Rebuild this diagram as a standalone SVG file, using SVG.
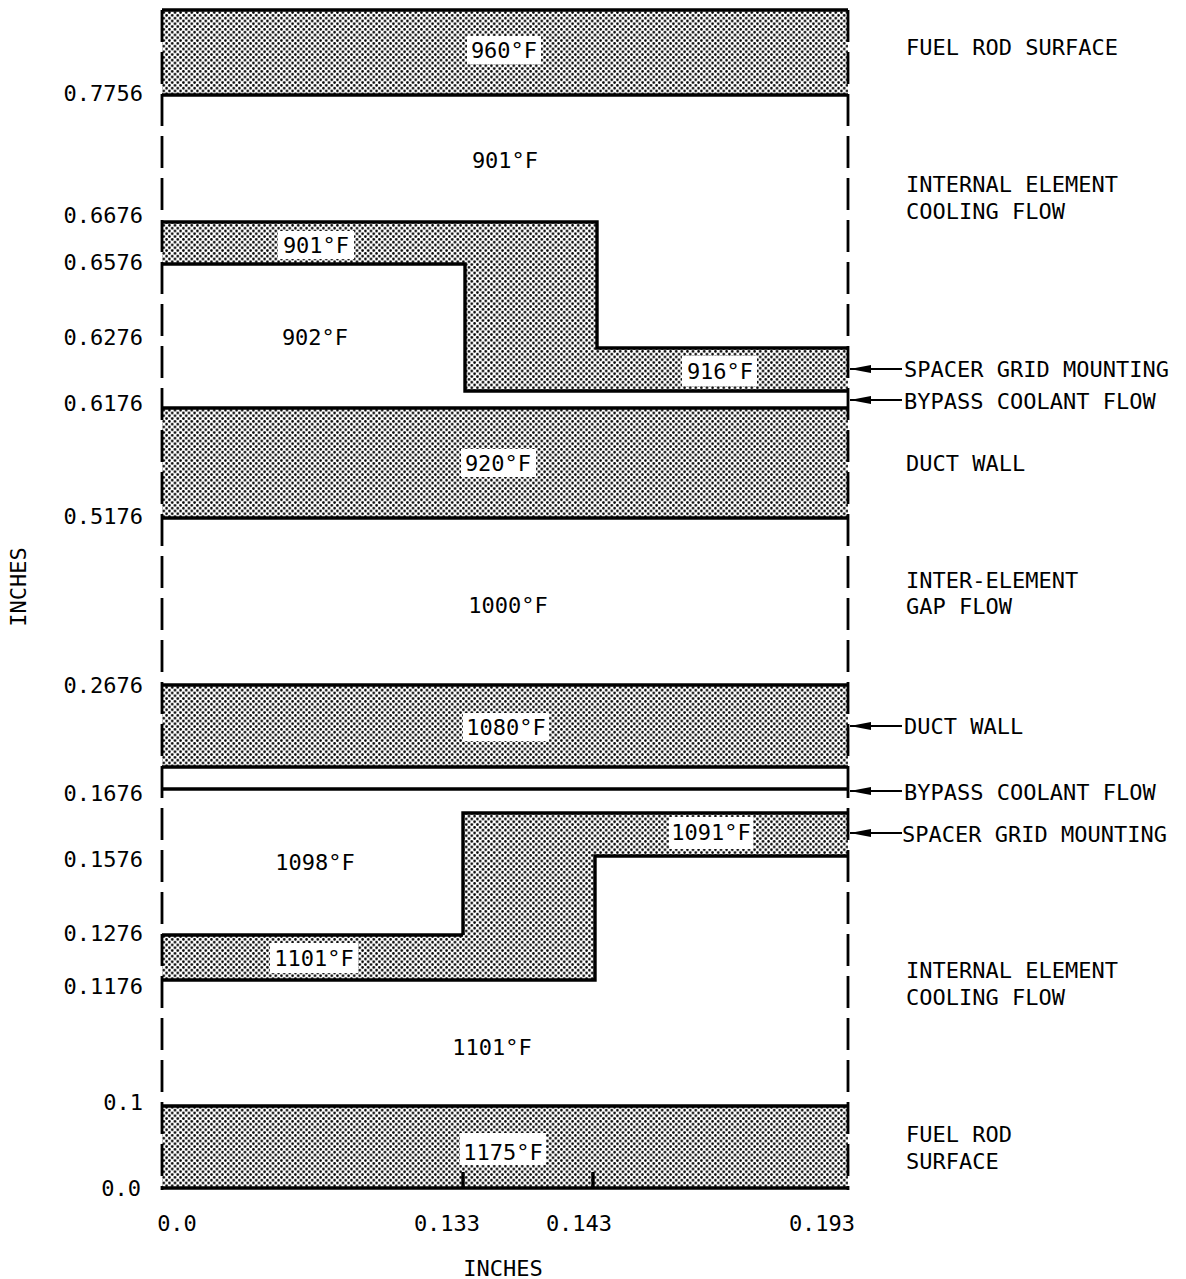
<svg xmlns="http://www.w3.org/2000/svg" width="1186" height="1279" viewBox="0 0 1186 1279">
<style>
.t{font-family:"DejaVu Sans Mono","Liberation Mono",monospace;font-size:22px;fill:#000}
.m{text-anchor:middle}
.r{text-anchor:end}
.edge{fill:none;stroke:#000;stroke-width:3.4;stroke-linejoin:miter}
.dash{fill:none;stroke:#000;stroke-width:2.8;stroke-dasharray:32 10}
.hatch{fill:url(#dots);stroke:none}
.lbl{fill:#fff}
.arr{stroke:#000;stroke-width:2;fill:none;marker-end:url(#ah)}
</style>
<defs>
<pattern id="dots" width="5.6" height="5.6" patternUnits="userSpaceOnUse">
<rect width="5.6" height="5.6" fill="#fff"/>
<circle cx="1.4" cy="1.4" r="1.3" fill="#000"/>
<circle cx="4.2" cy="4.2" r="1.3" fill="#000"/>
</pattern>
<marker id="ah" markerWidth="22" markerHeight="12" refX="21" refY="6" orient="auto" markerUnits="userSpaceOnUse">
<path d="M0,2 L21,6 L0,10 Z" fill="#000"/>
</marker>
</defs>
<rect width="1186" height="1279" fill="#fff"/>

<g id="fuel-rod-top">
<rect class="hatch" x="162" y="10" width="686" height="84"/>
<path class="edge" d="M162,10 H848 M162,95 H848"/>
<rect class="lbl" x="467" y="36" width="74" height="28"/>
<text class="t m" x="504" y="58">960°F</text>
</g>

<g id="internal-cooling-top">
<text class="t m" x="505" y="168">901°F</text>
</g>

<g id="spacer-grid-top">
<path class="hatch" d="M162,222 H597 V348 H848 V391 H465 V264 H162 Z"/>
<path class="edge" d="M162,222 H597 V348 H848 M848,391 H465 V264 H162"/>
<rect class="lbl" x="278" y="231" width="76" height="28"/>
<text class="t m" x="316" y="253">901°F</text>
<rect class="lbl" x="682" y="356" width="75" height="30"/>
<text class="t m" x="720" y="379">916°F</text>
</g>

<g id="region-902">
<text class="t m" x="315" y="345">902°F</text>
</g>

<g id="duct-wall-top">
<rect class="hatch" x="162" y="408" width="686" height="110"/>
<path class="edge" d="M162,408 H848 M162,518 H848"/>
<rect class="lbl" x="461" y="449" width="75" height="28"/>
<text class="t m" x="498" y="471">920°F</text>
</g>

<g id="inter-element-gap">
<text class="t m" x="508" y="613">1000°F</text>
</g>

<g id="duct-wall-bottom">
<rect class="hatch" x="162" y="685" width="686" height="82"/>
<path class="edge" d="M162,685 H848 M162,767 H848"/>
<rect class="lbl" x="463" y="713" width="86" height="28"/>
<text class="t m" x="506" y="735">1080°F</text>
</g>

<g id="bypass-bottom">
<path class="edge" d="M162,789 H848"/>
</g>

<g id="spacer-grid-bottom">
<path class="hatch" d="M463,813 H848 V856 H595 V980 H162 V935 H463 Z"/>
<path class="edge" d="M463,935 V813 H848 M848,856 H595 V980 H162 M162,935 H463"/>
<rect class="lbl" x="669" y="817" width="84" height="32"/>
<text class="t m" x="711" y="840">1091°F</text>
<rect class="lbl" x="270" y="943" width="88" height="30"/>
<text class="t m" x="314" y="966">1101°F</text>
</g>

<g id="region-1098">
<text class="t m" x="315" y="870">1098°F</text>
</g>

<g id="internal-cooling-bottom">
<text class="t m" x="492" y="1055">1101°F</text>
</g>

<g id="fuel-rod-bottom">
<rect class="hatch" x="162" y="1106" width="686" height="82"/>
<path class="edge" d="M162,1106 H848 M162,1188 H848 M463,1172 V1188 M593,1172 V1188"/>
<rect class="lbl" x="460" y="1133" width="86" height="32"/>
<text class="t m" x="503" y="1160">1175°F</text>
</g>

<g id="boundaries">
<path class="dash" d="M162,10 V1190"/>
<path class="dash" d="M848,10 V1190"/>
</g>

<g id="connectors">
<path class="arr" d="M902,369 H850"/>
<path class="arr" d="M902,400 H850"/>
<path class="arr" d="M902,726 H850"/>
<path class="arr" d="M902,791 H850"/>
<path class="arr" d="M902,833 H850"/>
</g>

<g id="right-labels">
<text class="t" x="906" y="55">FUEL ROD SURFACE</text>
<text class="t" x="906" y="192">INTERNAL ELEMENT</text>
<text class="t" x="906" y="219">COOLING FLOW</text>
<text class="t" x="904" y="377">SPACER GRID MOUNTING</text>
<text class="t" x="904" y="409">BYPASS COOLANT FLOW</text>
<text class="t" x="906" y="471">DUCT WALL</text>
<text class="t" x="906" y="588">INTER-ELEMENT</text>
<text class="t" x="906" y="614">GAP FLOW</text>
<text class="t" x="904" y="734">DUCT WALL</text>
<text class="t" x="904" y="800">BYPASS COOLANT FLOW</text>
<text class="t" x="902" y="842">SPACER GRID MOUNTING</text>
<text class="t" x="906" y="978">INTERNAL ELEMENT</text>
<text class="t" x="906" y="1005">COOLING FLOW</text>
<text class="t" x="906" y="1142">FUEL ROD</text>
<text class="t" x="906" y="1169">SURFACE</text>
</g>

<g id="y-axis">
<text class="t r" x="143" y="101">0.7756</text>
<text class="t r" x="143" y="223">0.6676</text>
<text class="t r" x="143" y="270">0.6576</text>
<text class="t r" x="143" y="345">0.6276</text>
<text class="t r" x="143" y="411">0.6176</text>
<text class="t r" x="143" y="524">0.5176</text>
<text class="t r" x="143" y="693">0.2676</text>
<text class="t r" x="143" y="801">0.1676</text>
<text class="t r" x="143" y="867">0.1576</text>
<text class="t r" x="143" y="941">0.1276</text>
<text class="t r" x="143" y="994">0.1176</text>
<text class="t r" x="143" y="1110">0.1</text>
<text class="t r" x="141" y="1196">0.0</text>
<text class="t m" transform="translate(26,587) rotate(-90)">INCHES</text>
</g>

<g id="x-axis">
<text class="t m" x="177" y="1231">0.0</text>
<text class="t m" x="447" y="1231">0.133</text>
<text class="t m" x="579" y="1231">0.143</text>
<text class="t m" x="822" y="1231">0.193</text>
<text class="t m" x="503" y="1276">INCHES</text>
</g>
</svg>
